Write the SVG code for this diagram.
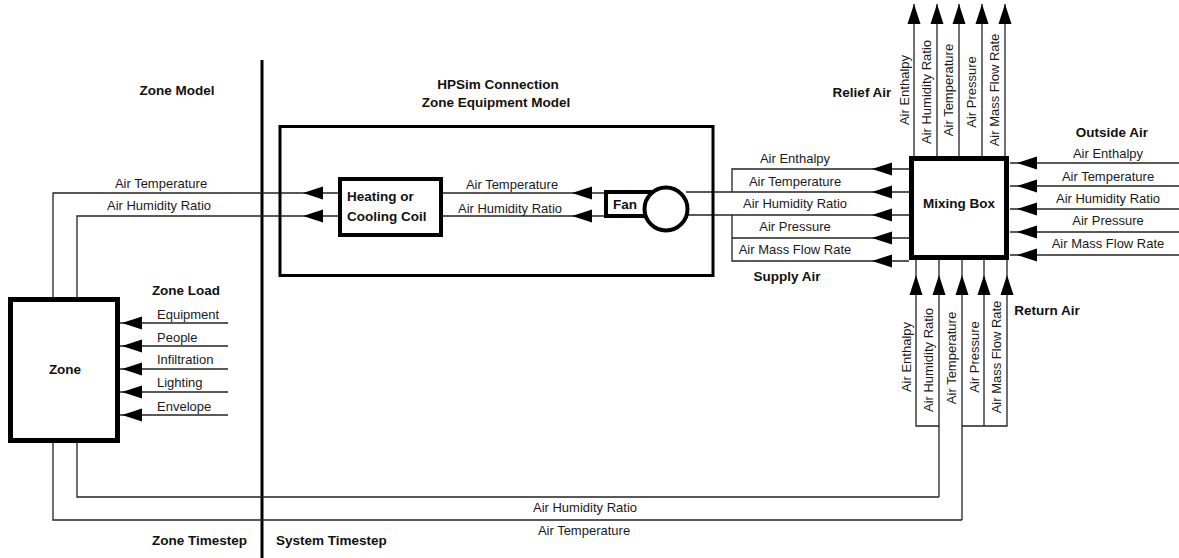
<svg xmlns="http://www.w3.org/2000/svg" xmlns:xlink="http://www.w3.org/1999/xlink" width="1179" height="558" viewBox="0 0 1179 558">
<style>
.ln{fill:none;stroke:#222;stroke-width:1.3}
.box{fill:#fff;stroke:#000}
.t{font-family:"Liberation Sans",Arial,sans-serif;font-size:13px;fill:#1a1a1a}
.b{font-family:"Liberation Sans",Arial,sans-serif;font-size:13.5px;font-weight:bold;fill:#111}
.m{text-anchor:middle}
.e{text-anchor:end}
.ah{fill:#000}
</style>
<defs>
<path id="al" class="ah" d="M0,0 L20,-6.5 L20,6.5 Z"/>
<path id="au" class="ah" d="M0,0 L-6.5,20 L6.5,20 Z"/>
</defs>
<rect width="1179" height="558" fill="#fff"/>

<g id="divider">
<line x1="262" y1="60" x2="262" y2="558" stroke="#000" stroke-width="3"/>
</g>

<g id="connectors">
<!-- zone to coil -->
<polyline class="ln" points="53,297 53,193 340,193"/>
<polyline class="ln" points="77,297 77,216 340,216"/>
<use xlink:href="#al" x="303" y="193"/>
<use xlink:href="#al" x="303" y="216"/>
<!-- coil to fan -->
<line class="ln" x1="441" y1="193" x2="606" y2="193"/>
<line class="ln" x1="441" y1="216" x2="606" y2="216"/>
<use xlink:href="#al" x="572" y="193"/>
<use xlink:href="#al" x="572" y="216"/>
<!-- fan to mixing box (supply) -->
<polyline class="ln" points="909,169 732,169 732,192"/>
<line class="ln" x1="686" y1="192" x2="909" y2="192"/>
<line class="ln" x1="686" y1="215" x2="909" y2="215"/>
<polyline class="ln" points="732,215 732,261 909,261"/>
<line class="ln" x1="732" y1="238" x2="909" y2="238"/>
<use xlink:href="#al" x="872" y="169"/>
<use xlink:href="#al" x="872" y="192"/>
<use xlink:href="#al" x="872" y="215"/>
<use xlink:href="#al" x="872" y="238"/>
<use xlink:href="#al" x="872" y="261"/>
<!-- relief air -->
<line class="ln" x1="914" y1="4" x2="914" y2="157"/>
<line class="ln" x1="937" y1="4" x2="937" y2="157"/>
<line class="ln" x1="959" y1="4" x2="959" y2="157"/>
<line class="ln" x1="982" y1="4" x2="982" y2="157"/>
<line class="ln" x1="1005" y1="4" x2="1005" y2="157"/>
<use xlink:href="#au" x="914" y="4"/>
<use xlink:href="#au" x="937" y="4"/>
<use xlink:href="#au" x="959" y="4"/>
<use xlink:href="#au" x="982" y="4"/>
<use xlink:href="#au" x="1005" y="4"/>
<!-- outside air -->
<line class="ln" x1="1010" y1="163" x2="1179" y2="163"/>
<line class="ln" x1="1010" y1="186" x2="1179" y2="186"/>
<line class="ln" x1="1010" y1="209" x2="1179" y2="209"/>
<line class="ln" x1="1010" y1="232" x2="1179" y2="232"/>
<line class="ln" x1="1010" y1="255" x2="1179" y2="255"/>
<use xlink:href="#al" x="1017" y="163"/>
<use xlink:href="#al" x="1017" y="186"/>
<use xlink:href="#al" x="1017" y="209"/>
<use xlink:href="#al" x="1017" y="232"/>
<use xlink:href="#al" x="1017" y="255"/>
<!-- return air -->
<polyline class="ln" points="916,260 916,426 939,426"/>
<line class="ln" x1="939" y1="260" x2="939" y2="497"/>
<line class="ln" x1="962" y1="260" x2="962" y2="520"/>
<polyline class="ln" points="962,426 1007,426 1007,260"/>
<line class="ln" x1="984" y1="260" x2="984" y2="426"/>
<use xlink:href="#au" x="916" y="275"/>
<use xlink:href="#au" x="939" y="275"/>
<use xlink:href="#au" x="962" y="275"/>
<use xlink:href="#au" x="984" y="275"/>
<use xlink:href="#au" x="1007" y="275"/>
<!-- return to zone -->
<polyline class="ln" points="939,497 77,497 77,443"/>
<polyline class="ln" points="962,520 53,520 53,443"/>
<!-- zone load -->
<line class="ln" x1="120" y1="323" x2="228" y2="323"/>
<line class="ln" x1="120" y1="346" x2="228" y2="346"/>
<line class="ln" x1="120" y1="369" x2="228" y2="369"/>
<line class="ln" x1="120" y1="392" x2="228" y2="392"/>
<line class="ln" x1="120" y1="415" x2="228" y2="415"/>
<use xlink:href="#al" x="122" y="323"/>
<use xlink:href="#al" x="122" y="346"/>
<use xlink:href="#al" x="122" y="369"/>
<use xlink:href="#al" x="122" y="392"/>
<use xlink:href="#al" x="122" y="415"/>
</g>

<g id="equipment-model">
<rect x="280" y="126.5" width="433" height="149" fill="none" stroke="#000" stroke-width="3"/>
</g>

<g id="coil">
<rect class="box" x="340" y="179" width="101" height="56" stroke-width="4"/>
<text class="b" x="347" y="201">Heating or</text>
<text class="b" x="347" y="221">Cooling Coil</text>
</g>

<g id="fan">
<rect class="box" x="606" y="192" width="44" height="24" stroke-width="4"/>
<circle class="box" cx="666" cy="209" r="21.5" stroke-width="4"/>
<text class="b" x="613" y="209">Fan</text>
</g>

<g id="mixing-box">
<rect class="box" x="911.5" y="158.5" width="95" height="99" stroke-width="5"/>
<text class="b m" x="959" y="208">Mixing Box</text>
</g>

<g id="zone">
<rect class="box" x="10.5" y="299.5" width="107" height="141" stroke-width="5"/>
<text class="b m" x="65" y="374">Zone</text>
</g>

<g id="labels">
<text class="b m" x="177" y="95">Zone Model</text>
<text class="b m" x="498" y="89">HPSim Connection</text>
<text class="b m" x="496" y="107">Zone Equipment Model</text>
<text class="b m" x="862" y="97">Relief Air</text>
<text class="b m" x="1112" y="137">Outside Air</text>
<text class="b m" x="787" y="281">Supply Air</text>
<text class="b m" x="1047" y="315">Return Air</text>
<text class="b m" x="186" y="295">Zone Load</text>
<text class="b e" x="247" y="545">Zone Timestep</text>
<text class="b" x="276" y="545">System Timestep</text>

<text class="t m" x="161" y="188">Air Temperature</text>
<text class="t m" x="159" y="210">Air Humidity Ratio</text>
<text class="t m" x="512" y="189">Air Temperature</text>
<text class="t m" x="510" y="213">Air Humidity Ratio</text>

<text class="t m" x="795" y="163">Air Enthalpy</text>
<text class="t m" x="795" y="186">Air Temperature</text>
<text class="t m" x="795" y="208">Air Humidity Ratio</text>
<text class="t m" x="795" y="231">Air Pressure</text>
<text class="t m" x="795" y="254">Air Mass Flow Rate</text>

<text class="t m" x="1108" y="158">Air Enthalpy</text>
<text class="t m" x="1108" y="181">Air Temperature</text>
<text class="t m" x="1108" y="203">Air Humidity Ratio</text>
<text class="t m" x="1108" y="225">Air Pressure</text>
<text class="t m" x="1108" y="248">Air Mass Flow Rate</text>

<text class="t m" transform="translate(909,90) rotate(-90)">Air Enthalpy</text>
<text class="t m" transform="translate(931,92) rotate(-90)">Air Humidity Ratio</text>
<text class="t m" transform="translate(953,90) rotate(-90)">Air Temperature</text>
<text class="t m" transform="translate(976,92) rotate(-90)">Air Pressure</text>
<text class="t m" transform="translate(999,90) rotate(-90)">Air Mass Flow Rate</text>

<text class="t m" transform="translate(911,357) rotate(-90)">Air Enthalpy</text>
<text class="t m" transform="translate(933,360) rotate(-90)">Air Humidity Ratio</text>
<text class="t m" transform="translate(956,358) rotate(-90)">Air Temperature</text>
<text class="t m" transform="translate(979,357) rotate(-90)">Air Pressure</text>
<text class="t m" transform="translate(1001,357) rotate(-90)">Air Mass Flow Rate</text>

<text class="t" x="157" y="319">Equipment</text>
<text class="t" x="157" y="342">People</text>
<text class="t" x="157" y="364">Infiltration</text>
<text class="t" x="157" y="387">Lighting</text>
<text class="t" x="157" y="411">Envelope</text>

<text class="t m" x="585" y="512">Air Humidity Ratio</text>
<text class="t m" x="584" y="535">Air Temperature</text>
</g>
</svg>
